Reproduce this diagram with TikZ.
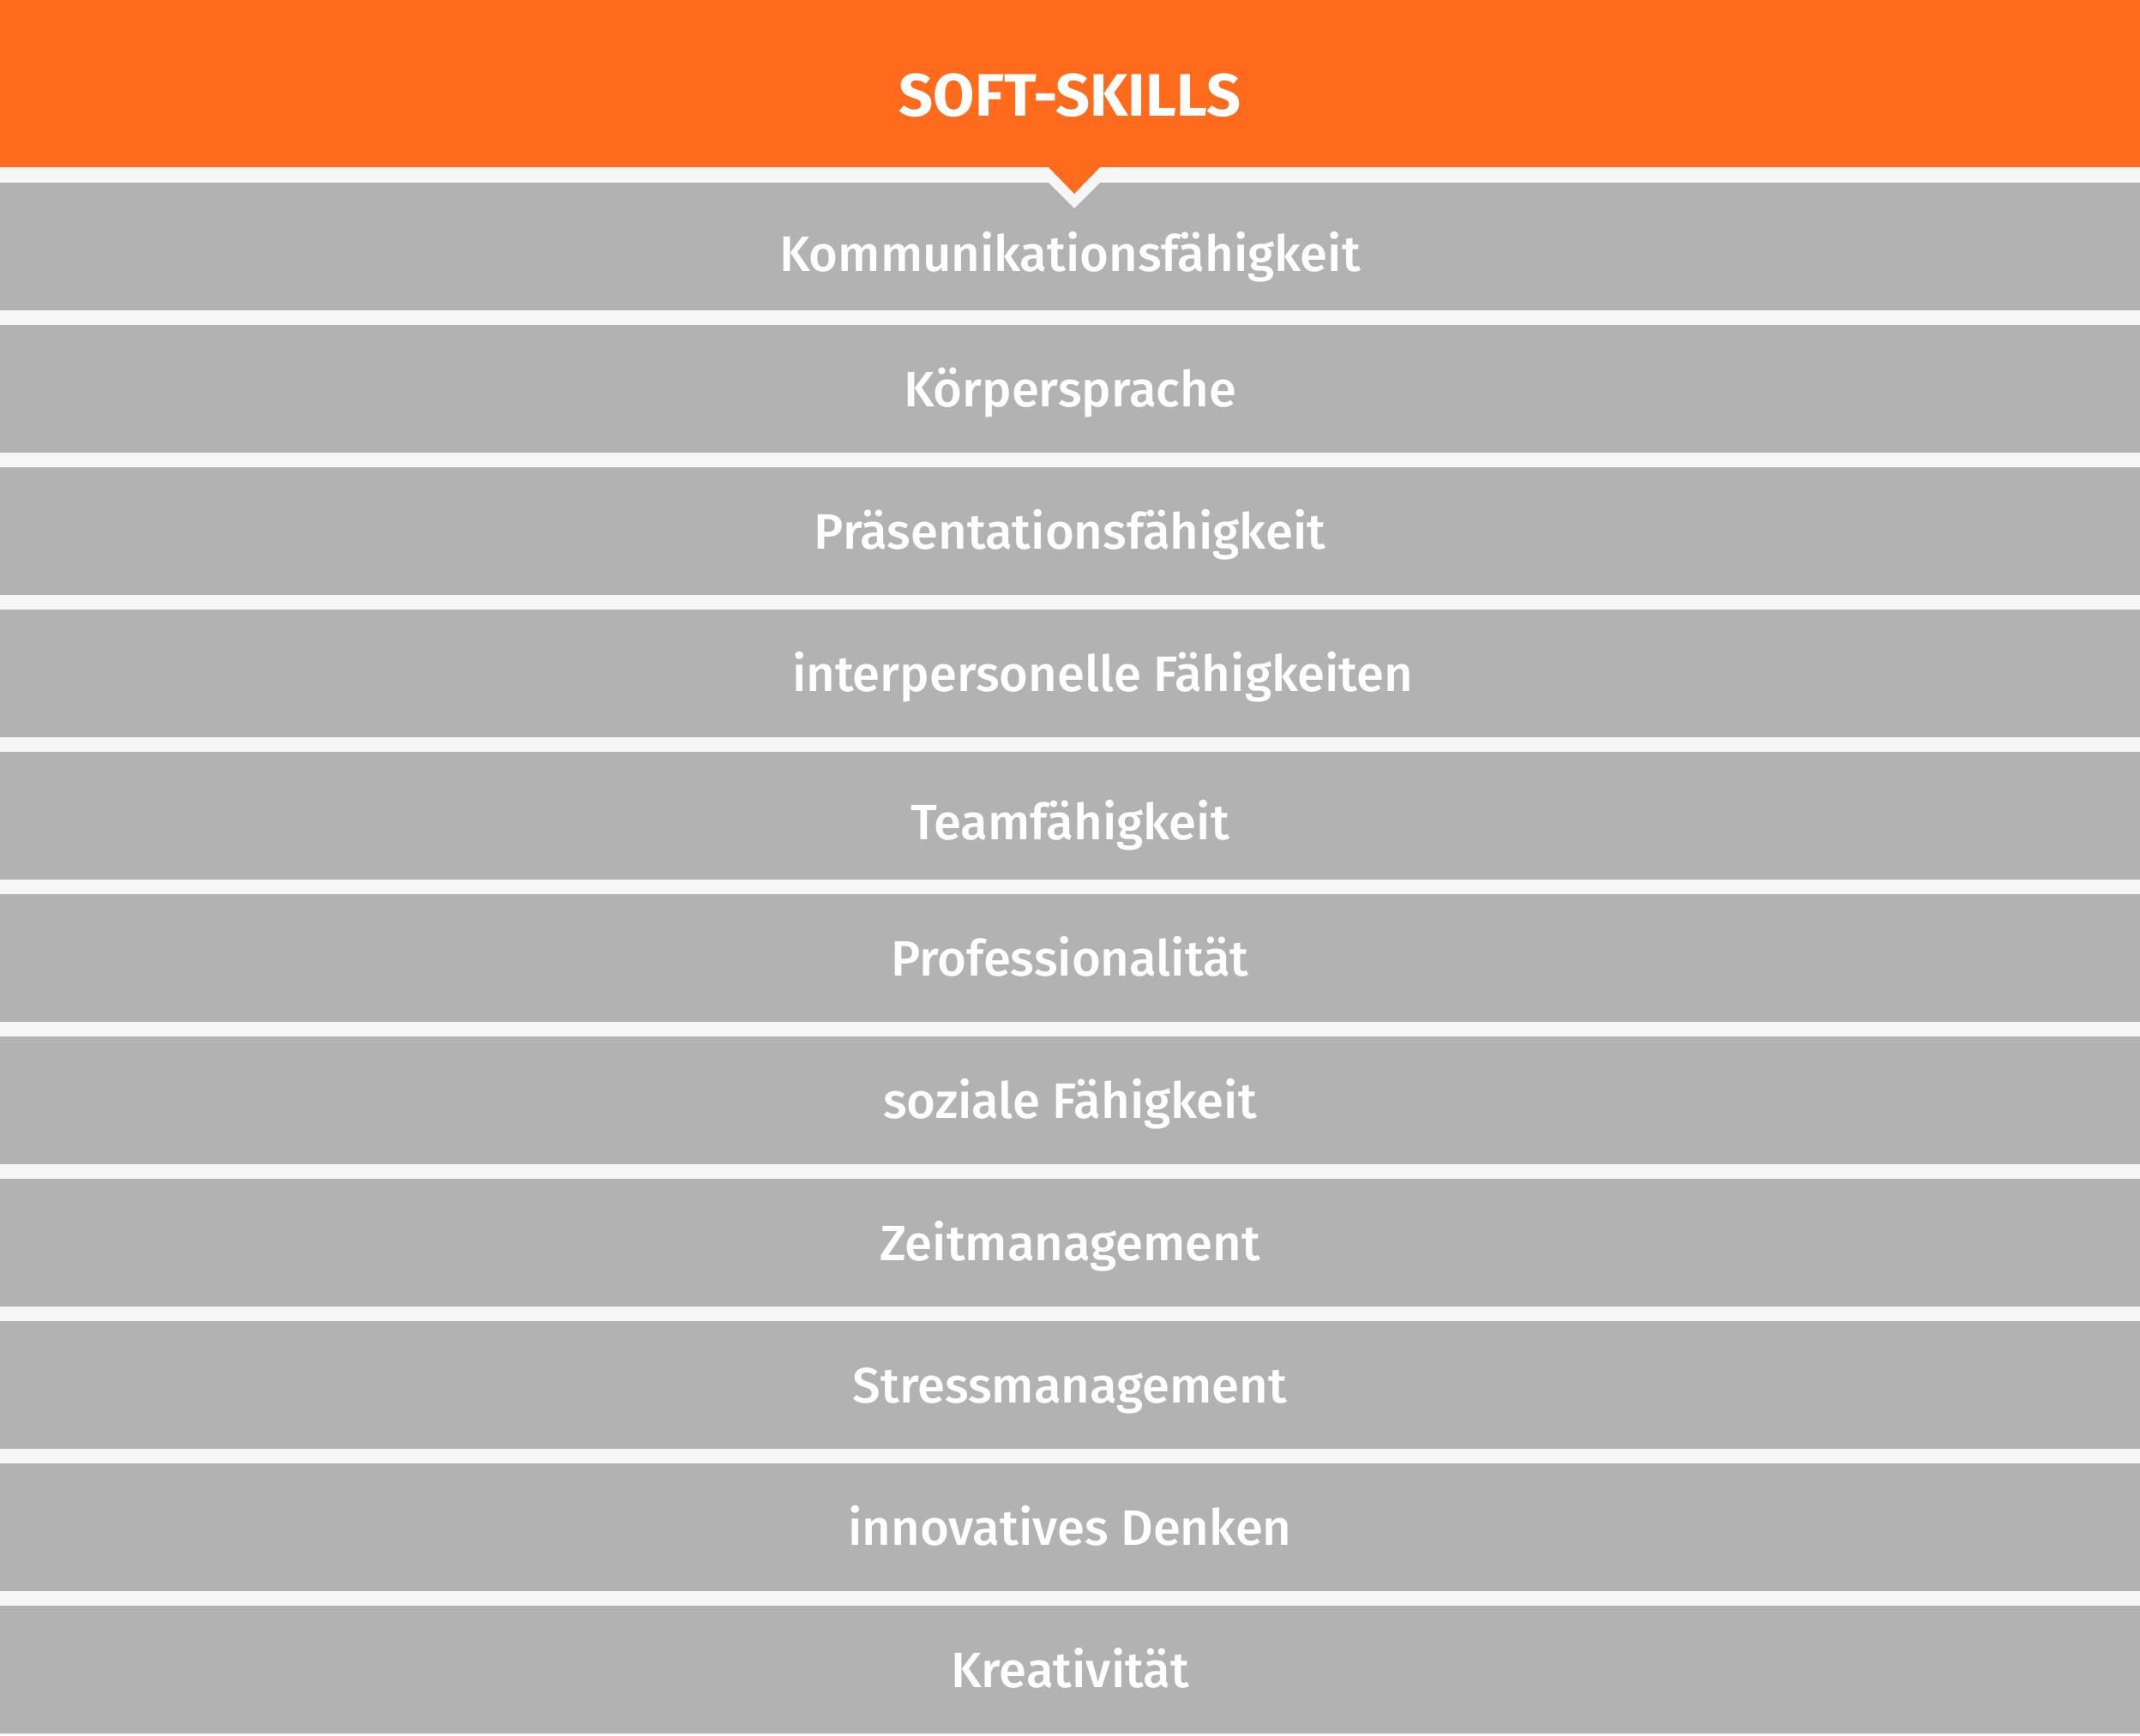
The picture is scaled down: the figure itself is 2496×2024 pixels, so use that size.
\documentclass[tikz,border=0pt]{standalone}
\usepackage{fontspec}
\setmainfont{Fira Sans}
\newfontfamily\itemfont{Fira Sans Medium}
\definecolor{hdr}{RGB}{255,107,28}
\definecolor{band}{RGB}{178,178,178}
\definecolor{gap}{RGB}{246,246,246}
\tikzset{
  bandbox/.style={fill=band, draw=none},
  itemtext/.style={text=white, font=\itemfont\fontsize{58}{60}\selectfont, anchor=base, inner sep=0pt},
  titletext/.style={text=white, font=\bfseries\fontsize{70}{72}\selectfont, anchor=base, inner sep=0pt}
}
\begin{document}
\begin{tikzpicture}[x=1pt,y=-1pt]
\useasboundingbox (0,0) rectangle (2496,2024);
\fill[gap] (0,0) rectangle (2496,2024);
\fill[hdr] (0,0) rectangle (2496,195);
% gray bands
\foreach \k in {0,...,10} {
  \fill[bandbox] (0,{213+166*\k}) rectangle (2496,{362+166*\k});
}
% notch
\fill[gap] (1205,195) -- (1253,243) -- (1301,195) -- cycle;
\fill[hdr] (1222,194) -- (1253,226) -- (1284,194) -- cycle;
\node[titletext] (title) at (1248,135) {SOFT-SKILLS};
\node[itemtext] (i0) at (1248,316) {Kommunikationsfähigkeit};
\node[itemtext] (i1) at (1248,474) {Körpersprache};
\node[itemtext] (i2) at (1248,640) {Präsentationsfähigkeit};
\node[itemtext] (i3) at (1286,806) {interpersonelle Fähigkeiten};
\node[itemtext] (i4) at (1248,979) {Teamfähigkeit};
\node[itemtext] (i5) at (1248,1138) {Professionalität};
\node[itemtext] (i6) at (1248,1304) {soziale Fähigkeit};
\node[itemtext] (i7) at (1248,1470) {Zeitmanagement};
\node[itemtext] (i8) at (1248,1636) {Stressmanagement};
\node[itemtext] (i9) at (1248,1802) {innovatives Denken};
\node[itemtext] (i10) at (1248,1968) {Kreativität};
\end{tikzpicture}
\end{document}
